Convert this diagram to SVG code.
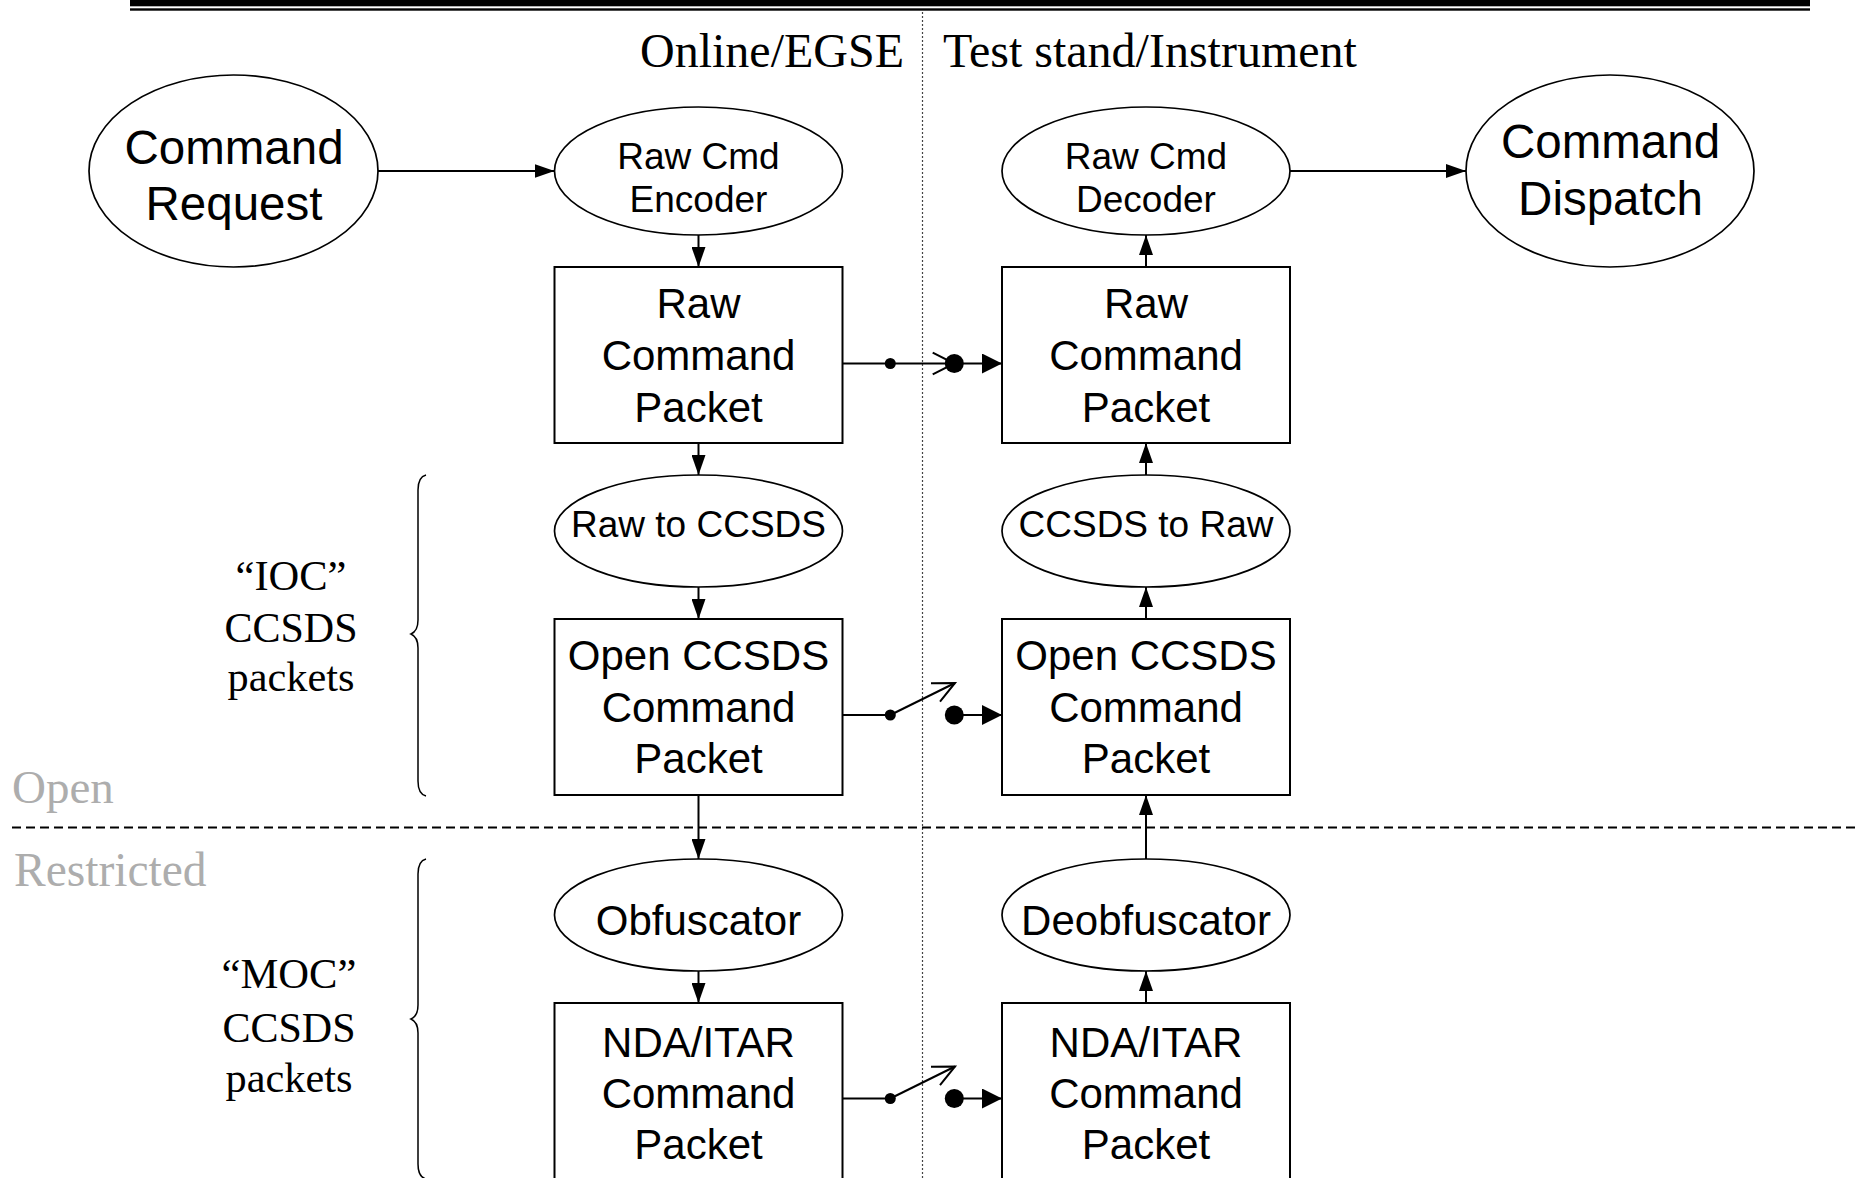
<svg xmlns="http://www.w3.org/2000/svg" width="1857" height="1178" viewBox="0 0 1857 1178">
<style>
.node ellipse, .node rect {fill:#fff; stroke:#000; stroke-width:2}
.node ellipse {stroke-width:1.7}
.sans {font-family:"Liberation Sans", Arial, sans-serif; fill:#000; text-anchor:middle}
.serif {font-family:"Liberation Serif", "Times New Roman", serif; fill:#000}
.mid {text-anchor:middle}
.grey {fill:#adadad}
.conn line, .conn polyline, .conn path {stroke:#000; stroke-width:2; fill:none}
.dot {fill:#000}
</style>
<defs>
<marker id="ah" markerUnits="userSpaceOnUse" markerWidth="20" markerHeight="14" refX="20" refY="7" orient="auto"><path d="M0,0 L20,7 L0,14 z" fill="#000"/></marker>
<marker id="ahb" markerUnits="userSpaceOnUse" markerWidth="20" markerHeight="20" refX="20" refY="10" orient="auto"><path d="M0,0 L20,10 L0,20 z" fill="#000"/></marker>
</defs>
<rect x="0" y="0" width="1857" height="1178" fill="#fff"/>

<g id="header">
<rect x="130" y="0" width="1680" height="6.3" fill="#000"/>
<rect x="130" y="8.3" width="1680" height="2.4" fill="#000"/>
<text class="serif" x="640" y="67" font-size="48">Online/EGSE</text>
<text class="serif" x="943" y="67" font-size="48">Test stand/Instrument</text>
</g>

<g id="separators">
<line x1="922.5" y1="12" x2="922.5" y2="1178" stroke="#444" stroke-width="1.2" stroke-dasharray="2 2"/>
<line x1="12" y1="827.5" x2="1857" y2="827.5" stroke="#000" stroke-width="2" stroke-dasharray="9 5"/>
<text class="serif grey" x="12" y="803" font-size="47">Open</text>
<text class="serif grey" x="14" y="886" font-size="47.5">Restricted</text>
</g>

<g id="brace-ioc">
<path d="M426,475 Q418,477 418,490 L418,620 Q418,631 411,634 Q418,637 418,648 L418,781 Q418,794 426,796" fill="none" stroke="#000" stroke-width="1.5"/>
<text class="serif mid" x="291" y="590" font-size="42.5">“IOC”</text>
<text class="serif mid" x="291" y="641.7" font-size="42">CCSDS</text>
<text class="serif mid" x="291" y="690.7" font-size="42.3">packets</text>
</g>
<g id="brace-moc">
<path d="M426,859 Q418,861 418,874 L418,1005 Q418,1016 411,1019 Q418,1022 418,1033 L418,1164 Q418,1177 426,1179" fill="none" stroke="#000" stroke-width="1.5"/>
<text class="serif mid" x="289" y="988" font-size="42.6">“MOC”</text>
<text class="serif mid" x="289" y="1041.7" font-size="42">CCSDS</text>
<text class="serif mid" x="289" y="1091.7" font-size="42.3">packets</text>
</g>

<g id="command-request" class="node">
<ellipse cx="233.5" cy="171" rx="144.5" ry="96"/>
<text class="sans" x="234" y="163.5" font-size="47.5">Command</text>
<text class="sans" x="234" y="219.5" font-size="47.5">Request</text>
</g>
<g id="raw-cmd-encoder" class="node">
<ellipse cx="698.5" cy="171" rx="144" ry="64"/>
<text class="sans" x="698.5" y="169" font-size="37">Raw Cmd</text>
<text class="sans" x="698.5" y="212" font-size="37">Encoder</text>
</g>
<g id="raw-cmd-decoder" class="node">
<ellipse cx="1146" cy="171" rx="144" ry="64"/>
<text class="sans" x="1146" y="169" font-size="37">Raw Cmd</text>
<text class="sans" x="1146" y="212" font-size="37">Decoder</text>
</g>
<g id="command-dispatch" class="node">
<ellipse cx="1610" cy="171" rx="144" ry="96"/>
<text class="sans" x="1610.5" y="157.5" font-size="47.5">Command</text>
<text class="sans" x="1610.5" y="215" font-size="47.5">Dispatch</text>
</g>

<g id="raw-command-packet-l" class="node">
<rect x="554.5" y="267" width="288" height="176"/>
<text class="sans" x="698.5" y="318" font-size="42">Raw</text>
<text class="sans" x="698.5" y="370" font-size="42">Command</text>
<text class="sans" x="698.5" y="422" font-size="42">Packet</text>
</g>
<g id="raw-command-packet-r" class="node">
<rect x="1002" y="267" width="288" height="176"/>
<text class="sans" x="1146" y="318" font-size="42">Raw</text>
<text class="sans" x="1146" y="370" font-size="42">Command</text>
<text class="sans" x="1146" y="422" font-size="42">Packet</text>
</g>

<g id="raw-to-ccsds" class="node">
<ellipse cx="698.5" cy="531" rx="144" ry="56"/>
<text class="sans" x="698.5" y="537" font-size="37">Raw to CCSDS</text>
</g>
<g id="ccsds-to-raw" class="node">
<ellipse cx="1146" cy="531" rx="144" ry="56"/>
<text class="sans" x="1146" y="537" font-size="37">CCSDS to Raw</text>
</g>

<g id="open-ccsds-l" class="node">
<rect x="554.5" y="619" width="288" height="176"/>
<text class="sans" x="698.5" y="670" font-size="42">Open CCSDS</text>
<text class="sans" x="698.5" y="721.7" font-size="42">Command</text>
<text class="sans" x="698.5" y="773" font-size="42">Packet</text>
</g>
<g id="open-ccsds-r" class="node">
<rect x="1002" y="619" width="288" height="176"/>
<text class="sans" x="1146" y="670" font-size="42">Open CCSDS</text>
<text class="sans" x="1146" y="721.7" font-size="42">Command</text>
<text class="sans" x="1146" y="773" font-size="42">Packet</text>
</g>

<g id="obfuscator" class="node">
<ellipse cx="698.5" cy="915" rx="144" ry="56"/>
<text class="sans" x="698.5" y="935" font-size="42">Obfuscator</text>
</g>
<g id="deobfuscator" class="node">
<ellipse cx="1146" cy="915" rx="144" ry="56"/>
<text class="sans" x="1146" y="935" font-size="42">Deobfuscator</text>
</g>

<g id="nda-itar-l" class="node">
<rect x="554.5" y="1003" width="288" height="180"/>
<text class="sans" x="698.5" y="1057" font-size="42">NDA/ITAR</text>
<text class="sans" x="698.5" y="1108" font-size="42">Command</text>
<text class="sans" x="698.5" y="1159" font-size="42">Packet</text>
</g>
<g id="nda-itar-r" class="node">
<rect x="1002" y="1003" width="288" height="180"/>
<text class="sans" x="1146" y="1057" font-size="42">NDA/ITAR</text>
<text class="sans" x="1146" y="1108" font-size="42">Command</text>
<text class="sans" x="1146" y="1159" font-size="42">Packet</text>
</g>

<g id="connectors" class="conn">
<line x1="378" y1="171" x2="554.5" y2="171" marker-end="url(#ah)"/>
<line x1="1290" y1="171" x2="1466" y2="171" marker-end="url(#ah)"/>
<line x1="698.5" y1="235" x2="698.5" y2="267" marker-end="url(#ah)"/>
<line x1="698.5" y1="443" x2="698.5" y2="475" marker-end="url(#ah)"/>
<line x1="698.5" y1="587" x2="698.5" y2="619" marker-end="url(#ah)"/>
<line x1="698.5" y1="795" x2="698.5" y2="859" marker-end="url(#ah)"/>
<line x1="698.5" y1="971" x2="698.5" y2="1003" marker-end="url(#ah)"/>
<line x1="1146" y1="267" x2="1146" y2="235" marker-end="url(#ah)"/>
<line x1="1146" y1="475" x2="1146" y2="443" marker-end="url(#ah)"/>
<line x1="1146" y1="619" x2="1146" y2="587" marker-end="url(#ah)"/>
<line x1="1146" y1="859" x2="1146" y2="795" marker-end="url(#ah)"/>
<line x1="1146" y1="1003" x2="1146" y2="971" marker-end="url(#ah)"/>

<g id="switch-raw">
<line x1="842.5" y1="363.5" x2="954.3" y2="363.5"/>
<polyline points="932.7,352.7 954.3,363.5 932.7,374.3"/>
<circle class="dot" cx="890.3" cy="363.5" r="5.5"/>
<circle class="dot" cx="954.3" cy="363.5" r="9.5"/>
<line x1="954.3" y1="363.5" x2="1002" y2="363.5" marker-end="url(#ahb)"/>
</g>
<g id="switch-open">
<line x1="842.5" y1="715" x2="890.3" y2="715"/>
<line x1="890.3" y1="715" x2="955" y2="683"/>
<polyline points="931,683.3 955,683 940,701.7"/>
<circle class="dot" cx="890.3" cy="715" r="5.5"/>
<circle class="dot" cx="954.3" cy="715" r="9.5"/>
<line x1="954.3" y1="715" x2="1002" y2="715" marker-end="url(#ahb)"/>
</g>
<g id="switch-nda">
<line x1="842.5" y1="1098.5" x2="890.3" y2="1098.5"/>
<line x1="890.3" y1="1098.5" x2="955" y2="1066.5"/>
<polyline points="931,1066.8 955,1066.5 940,1085.2"/>
<circle class="dot" cx="890.3" cy="1098.5" r="5.5"/>
<circle class="dot" cx="954.3" cy="1098.5" r="9.5"/>
<line x1="954.3" y1="1098.5" x2="1002" y2="1098.5" marker-end="url(#ahb)"/>
</g>
</g>
</svg>
